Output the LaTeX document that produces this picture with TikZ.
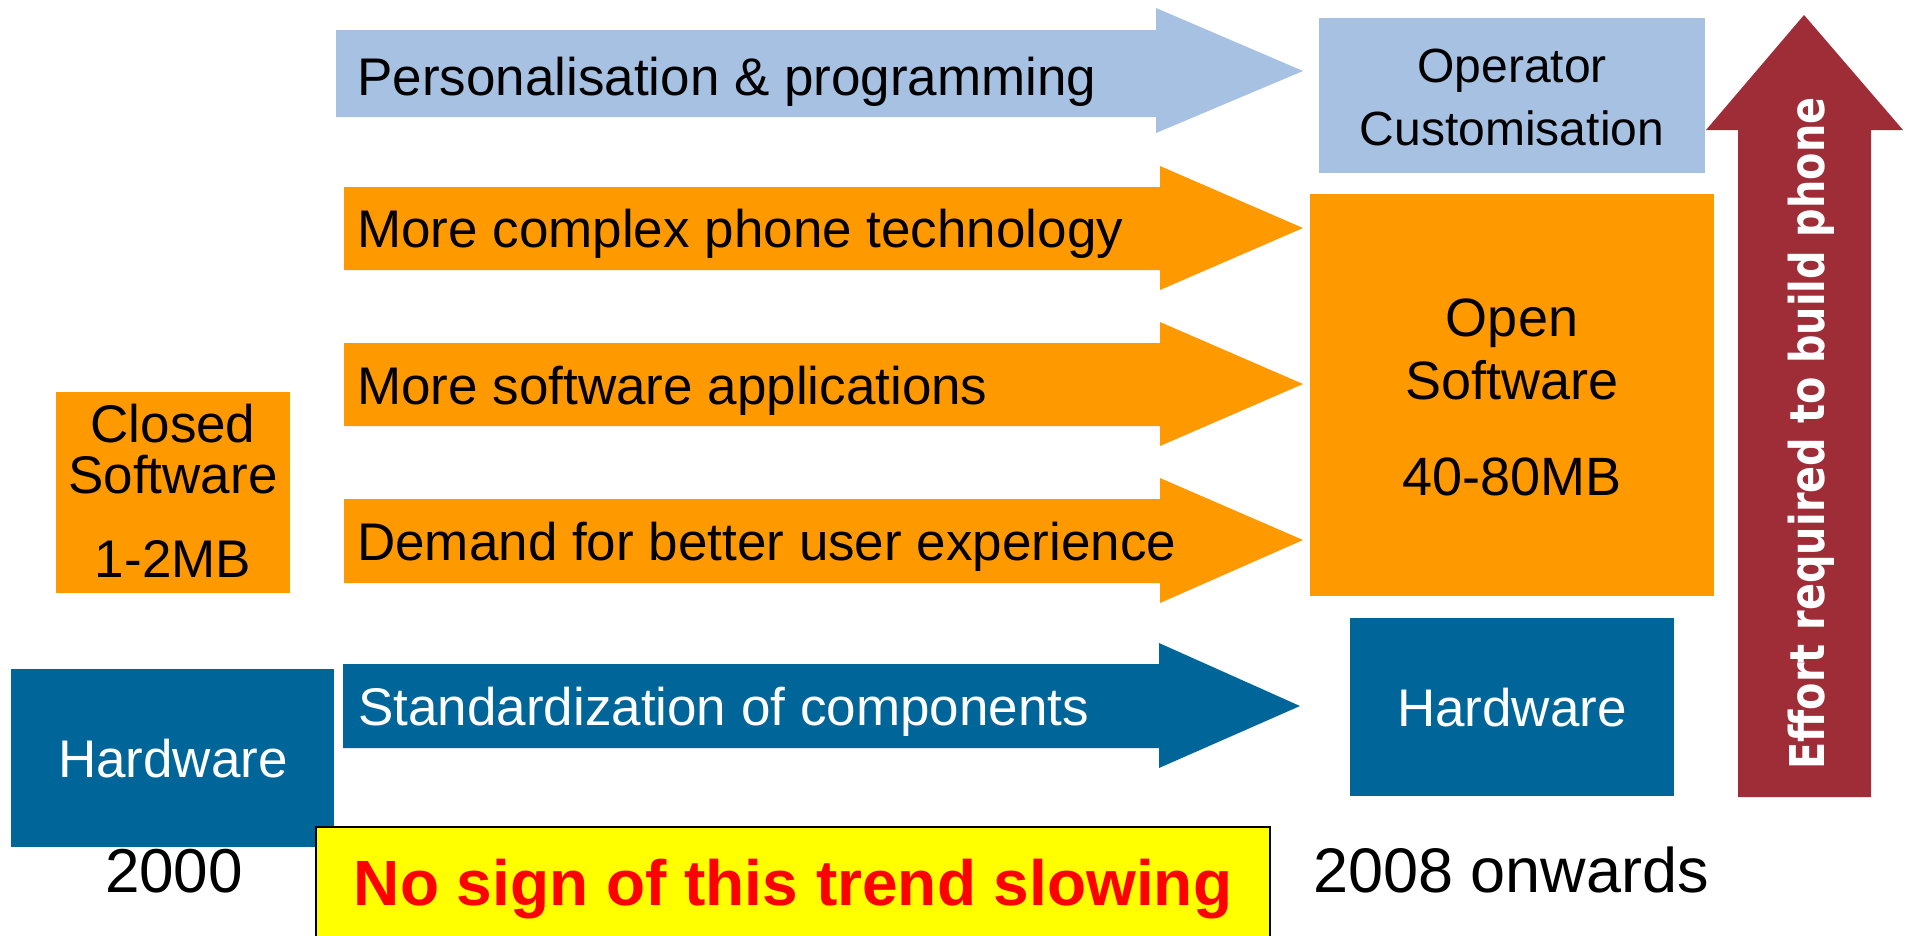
\documentclass[tikz,border=0pt]{standalone}
\usepackage{fontspec}
\setmainfont{Liberation Sans}
\newfontfamily\effortfont[FakeStretch=0.83]{DejaVu Sans}
\definecolor{lblue}{HTML}{A7C1E2}
\definecolor{orng}{HTML}{FF9900}
\definecolor{dblue}{HTML}{006699}
\definecolor{dred}{HTML}{9E2D37}
\definecolor{ylw}{HTML}{FFFF00}
\definecolor{redtxt}{HTML}{FF0000}
\begin{document}
\begin{tikzpicture}[x=1pt,y=-1pt,
  boxshape/.style={inner sep=0pt, outer sep=0pt, draw=none},
  arrowtext/.style={inner sep=0pt, anchor=base west, font=\fontsize{53}{60}\selectfont},
  boxtext/.style={inner sep=0pt, anchor=base, font=\fontsize{53}{60}\selectfont},
  yeartext/.style={inner sep=0pt, font=\fontsize{62}{70}\selectfont}]
\useasboundingbox[fill=white] (0,0) rectangle (1913,935);

% ---- block arrows ----
\fill[lblue] (336,30) -- (1156,30) -- (1156,8) -- (1303,71) -- (1156,133) -- (1156,117) -- (336,117) -- cycle;
\fill[orng] (344,187) -- (1160,187) -- (1160,166) -- (1303,228) -- (1160,290) -- (1160,270) -- (344,270) -- cycle;
\fill[orng] (344,343) -- (1160,343) -- (1160,322) -- (1303,384) -- (1160,446) -- (1160,426) -- (344,426) -- cycle;
\fill[orng] (344,499) -- (1160,499) -- (1160,478) -- (1303,540) -- (1160,603) -- (1160,583) -- (344,583) -- cycle;
\fill[dblue] (343,664) -- (1159,664) -- (1159,643) -- (1300,706) -- (1159,768) -- (1159,748) -- (343,748) -- cycle;

\node[arrowtext] (tpers) at (357,95) {Personalisation \& programming};
\node[arrowtext] (tcomplex) at (357,247) {More complex phone technology};
\node[arrowtext] (tapps) at (357,404) {More software applications};
\node[arrowtext] (tdemand) at (357,560) {Demand for better user experience};
\node[arrowtext, text=white] (tstd) at (358,725) {Standardization of components};

% ---- left column ----
\node[boxshape, fill=orng, minimum width=234pt, minimum height=201pt] (closed) at (173,492.5) {};
\node[boxtext] (closed1) at (173,442) {Closed};
\node[boxtext] (closed2) at (173,493) {Software};
\node[boxtext] (closed3) at (173,577) {1-2MB};

\node[boxshape, fill=dblue, minimum width=323pt, minimum height=178pt] (hwleft) at (172.5,758) {};
\node[boxtext, text=white] (hwlefttxt) at (173,777) {Hardware};

\node[yeartext, anchor=base] (y2000) at (174,892) {2000};

% ---- right column ----
\node[boxshape, fill=lblue, minimum width=386pt, minimum height=155pt] (oper) at (1512,95.5) {};
\node[boxtext, font=\fontsize{48}{56}\selectfont] (oper1) at (1512,82) {Operator};
\node[boxtext, font=\fontsize{48}{56}\selectfont] (oper2) at (1512,145) {Customisation};

\node[boxshape, fill=orng, minimum width=404pt, minimum height=402pt] (open) at (1512,395) {};
\node[boxtext, font=\fontsize{54}{60}\selectfont] (open1) at (1512,336) {Open};
\node[boxtext, font=\fontsize{54}{60}\selectfont] (open2) at (1512,399) {Software};
\node[boxtext, font=\fontsize{54}{60}\selectfont] (open3) at (1512,495) {40-80MB};

\node[boxshape, fill=dblue, minimum width=324pt, minimum height=178pt] (hwright) at (1512,707) {};
\node[boxtext, text=white] (hwrighttxt) at (1512,726) {Hardware};

\node[yeartext, anchor=base west, font=\fontsize{63}{70}\selectfont] (y2008) at (1313,892) {2008 onwards};

% ---- yellow banner ----
\node[boxshape, fill=ylw, draw=black, line width=1.5pt, minimum width=954pt, minimum height=120pt] (banner) at (793,887) {};
\node[inner sep=0pt, anchor=base, text=redtxt, font=\fontsize{64}{72}\selectfont\bfseries] (bannertxt) at (793,905) {No sign of this trend slowing};

% ---- effort arrow ----
\fill[dred] (1738,797) -- (1738,130) -- (1706,130) -- (1804,15) -- (1903,130) -- (1871,130) -- (1871,797) -- cycle;
\node[inner sep=0pt, anchor=base, rotate=90, text=white, font=\effortfont\fontsize{48}{56}\selectfont\bfseries] (efforttxt) at (1824,433.5) {Effort required to build phone};
\end{tikzpicture}
\end{document}
